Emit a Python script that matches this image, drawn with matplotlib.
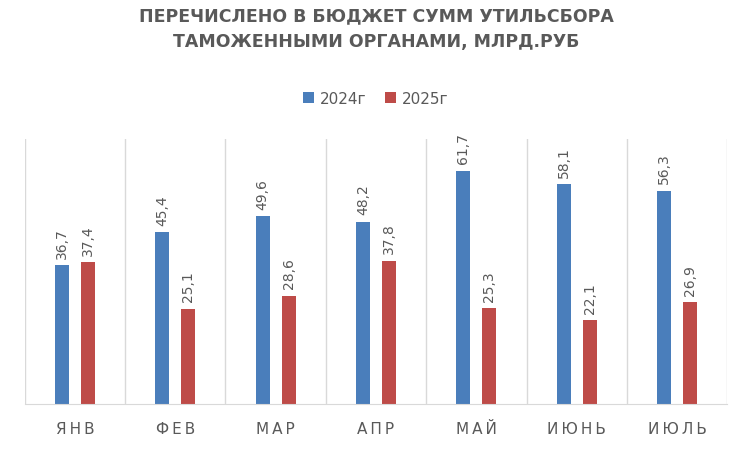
import matplotlib
matplotlib.use("Agg")
import matplotlib.pyplot as plt
import numpy as np

categories = ["ЯНВ", "ФЕВ", "МАР", "АПР", "МАЙ", "ИЮНЬ", "ИЮЛЬ"]
v2024 = [36.7, 45.4, 49.6, 48.2, 61.7, 58.1, 56.3]
v2025 = [37.4, 25.1, 28.6, 37.8, 25.3, 22.1, 26.9]

blue = "#4a7ebb"
red = "#be4b48"
gray = "#595959"

fig = plt.figure(figsize=(7.52, 4.52), dpi=100)
ax = fig.add_axes([0.033, 0.104, 0.934, 0.586])
x = np.arange(len(categories))
w = 0.14
b1 = ax.bar(x - 0.13, v2024, w, color=blue, label="2024г")
b2 = ax.bar(x + 0.13, v2025, w, color=red, label="2025г")
for bars, vals in ((b1, v2024), (b2, v2025)):
    for r, v in zip(bars, vals):
        ax.text(r.get_x() + r.get_width() / 2, v + 2.0, f"{v:.1f}".replace(".", ","),
                rotation=90, ha="center", va="bottom", fontsize=10, color=gray)
ax.set_xlim(-0.5, len(categories) - 0.5)
ax.set_ylim(0, 70)
for b in np.arange(-0.5, len(categories), 1):
    ax.axvline(b, color="#d9d9d9", lw=1, zorder=0)
for s in ["top", "right", "left"]:
    ax.spines[s].set_visible(False)
ax.spines["bottom"].set_color("#d9d9d9")
ax.set_yticks([])
ax.set_xticks(x)
ax.set_xticklabels(["\u2009".join(c) for c in categories], fontsize=11, color=gray)
ax.tick_params(axis="x", length=0, pad=12)
fig.text(0.5, 0.935, "ПЕРЕЧИСЛЕНО В БЮДЖЕТ СУММ УТИЛЬСБОРА\nТАМОЖЕННЫМИ ОРГАНАМИ, МЛРД.РУБ",
         ha="center", va="center", fontsize=12.5, fontweight="bold", color=gray,
         linespacing=1.55)
fig.legend(handles=[b1, b2], loc="center", bbox_to_anchor=(0.5, 0.78), ncol=2,
           frameon=False, fontsize=11, handlelength=0.7, handleheight=0.7,
           columnspacing=1.2, handletextpad=0.4, labelcolor=gray)
fig.savefig("out.png", dpi=100)
